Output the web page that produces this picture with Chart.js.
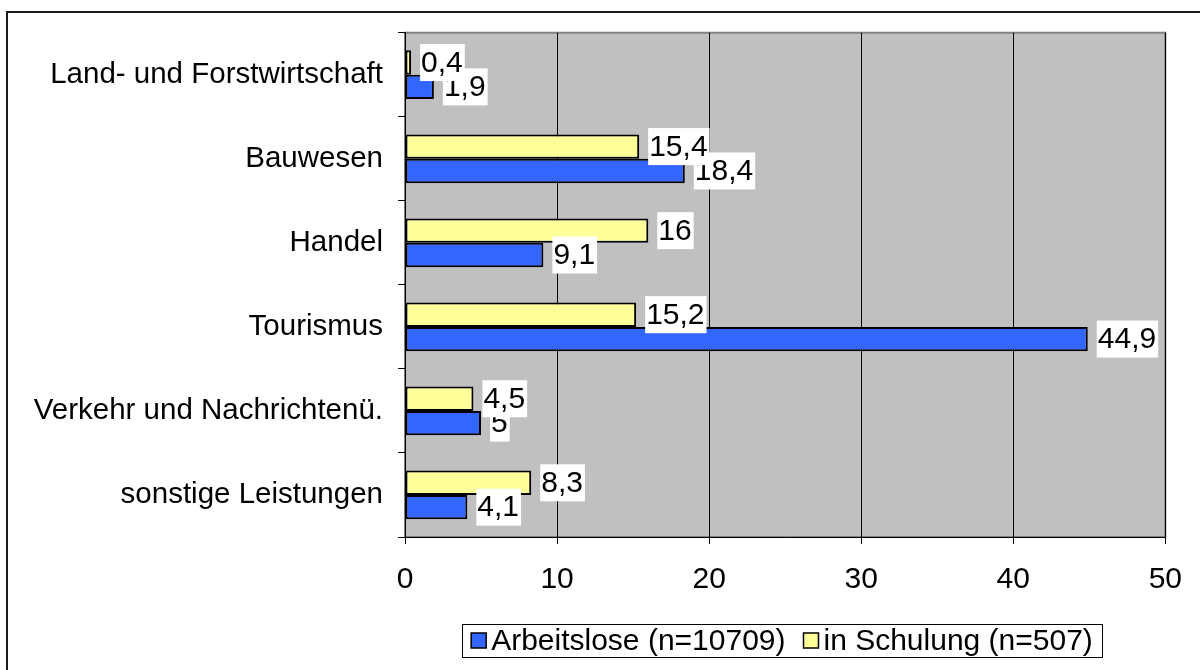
<!DOCTYPE html>
<html><head><meta charset="utf-8">
<script src="https://cdn.jsdelivr.net/npm/chart.js@4/dist/chart.umd.min.js"></script>
<style>html,body{margin:0;padding:0;background:#fff}#wrap{width:1200px;height:670px;position:relative}</style>
</head><body><div id="wrap"><canvas id="c" width="1200" height="670"></canvas></div>
<script>
// ---- data ----
const categories = ['Land- und Forstwirtschaft', 'Bauwesen', 'Handel', 'Tourismus', 'Verkehr und Nachrichtenü.', 'sonstige Leistungen'];
const arbeitslose = [1.9, 18.4, 9.1, 44.9, 5, 4.1];
const schulung = [0.4, 15.4, 16, 15.2, 4.5, 8.3];
const seriesNames = ['Arbeitslose (n=10709)', 'in Schulung (n=507)'];
const xMin = 0, xMax = 50, xStep = 10;

const FONT = "'Liberation Sans', Arial, sans-serif";
const FS = 30;
const FS_CAT = 29.5;
const BLUE = '#3366FF', YELLOW = '#FFFF99';

Chart.defaults.font.family = FONT;
Chart.defaults.font.size = FS;
Chart.defaults.color = '#000';

const fmt = v => String(v).replace('.', ',');

const decor = {
  id: 'decor',
  beforeDraw(chart) {
    const { ctx, chartArea: a } = chart;
    ctx.save();
    ctx.fillStyle = '#fff';
    ctx.fillRect(0, 0, chart.width, chart.height);
    ctx.fillStyle = '#C0C0C0';
    ctx.fillRect(a.left, a.top, a.right - a.left, a.bottom - a.top);
    ctx.strokeStyle = '#808080';
    ctx.lineWidth = 2;
    ctx.strokeRect(a.left, a.top, a.right - a.left, a.bottom - a.top);
    ctx.restore();
  },
  afterDatasetsDraw(chart) {
    const { ctx } = chart;
    ctx.save();
    ctx.font = FS + 'px ' + FONT;
    ctx.textBaseline = 'middle';
    ctx.textAlign = 'left';
    // blue (Arbeitslose) labels first, yellow labels drawn on top
    [1, 0].forEach(di => {
      const ds = chart.data.datasets[di];
      const meta = chart.getDatasetMeta(di);
      meta.data.forEach((bar, i) => {
        const txt = fmt(ds.data[i]);
        const w = ctx.measureText(txt).width;
        const bx = bar.x + 9;
        const h = 37;
        ctx.fillStyle = '#fff';
        ctx.fillRect(bx, bar.y - h / 2, w + 3, h);
        ctx.fillStyle = '#000';
        ctx.fillText(txt, bx + 1, bar.y + 1);
      });
    });
    ctx.restore();
  },
  afterDraw(chart) {
    const { ctx } = chart;
    ctx.save();
    // legend (Arbeitslose first)
    ctx.font = FS + 'px ' + FONT;
    ctx.textBaseline = 'middle';
    const order = [1, 0];
    const items = order.map(di => ({ label: chart.data.datasets[di].label, color: chart.data.datasets[di].backgroundColor }));
    const box = 15, gap = 5, spacing = 18, padX = 9;
    const widths = items.map(it => box + gap + ctx.measureText(it.label).width);
    const total = widths.reduce((s, w) => s + w, 0) + spacing * (items.length - 1);
    const cx = 782, top = 624, bottom = 657, cy = (top + bottom) / 2;
    let x = cx - total / 2;
    ctx.strokeStyle = '#000';
    ctx.lineWidth = 1;
    ctx.strokeRect(Math.round(x - padX) + 0.5, top + 0.5, Math.round(total + 2 * padX), bottom - top);
    items.forEach((it, k) => {
      ctx.fillStyle = it.color;
      ctx.fillRect(x, cy - box / 2, box, box);
      ctx.lineWidth = 1.5;
      ctx.strokeStyle = '#000';
      ctx.strokeRect(x, cy - box / 2, box, box);
      ctx.fillStyle = '#000';
      ctx.fillText(it.label, x + box + gap, cy + 1);
      x += widths[k] + spacing;
    });
    // outer frame
    ctx.strokeStyle = '#1a1a1a';
    ctx.lineWidth = 2;
    ctx.strokeRect(7, 12, 1400, 900);
    ctx.restore();
  }
};

new Chart(document.getElementById('c'), {
  type: 'bar',
  data: {
    labels: categories,
    datasets: [
      { label: seriesNames[1], data: schulung, backgroundColor: YELLOW, borderColor: '#000', borderWidth: 2, borderSkipped: false, categoryPercentage: 0.58, barPercentage: 1.0 },
      { label: seriesNames[0], data: arbeitslose, backgroundColor: BLUE, borderColor: '#000', borderWidth: 2, borderSkipped: false, categoryPercentage: 0.58, barPercentage: 1.0 }
    ]
  },
  options: {
    indexAxis: 'y',
    responsive: false,
    animation: false,
    devicePixelRatio: 1,
    layout: { padding: { left: 0, top: 32, right: 31, bottom: 73 } },
    plugins: { legend: { display: false }, tooltip: { enabled: false } },
    scales: {
      x: {
        min: xMin, max: xMax,
        ticks: { stepSize: xStep, padding: 18, color: '#000', font: { size: FS } },
        grid: { color: '#000', lineWidth: 1, tickLength: 7, drawTicks: true },
        border: { color: '#000', width: 1 },
        afterFit(s) { s.height = 60; }
      },
      y: {
        ticks: { padding: 15, color: '#000', font: { size: FS_CAT } },
        grid: { drawOnChartArea: false, offset: true, color: '#000', tickLength: 7, drawTicks: true },
        border: { color: '#000', width: 1 },
        afterFit(s) { s.width = 405; }
      }
    }
  },
  plugins: [decor]
});
</script>
</body></html>
